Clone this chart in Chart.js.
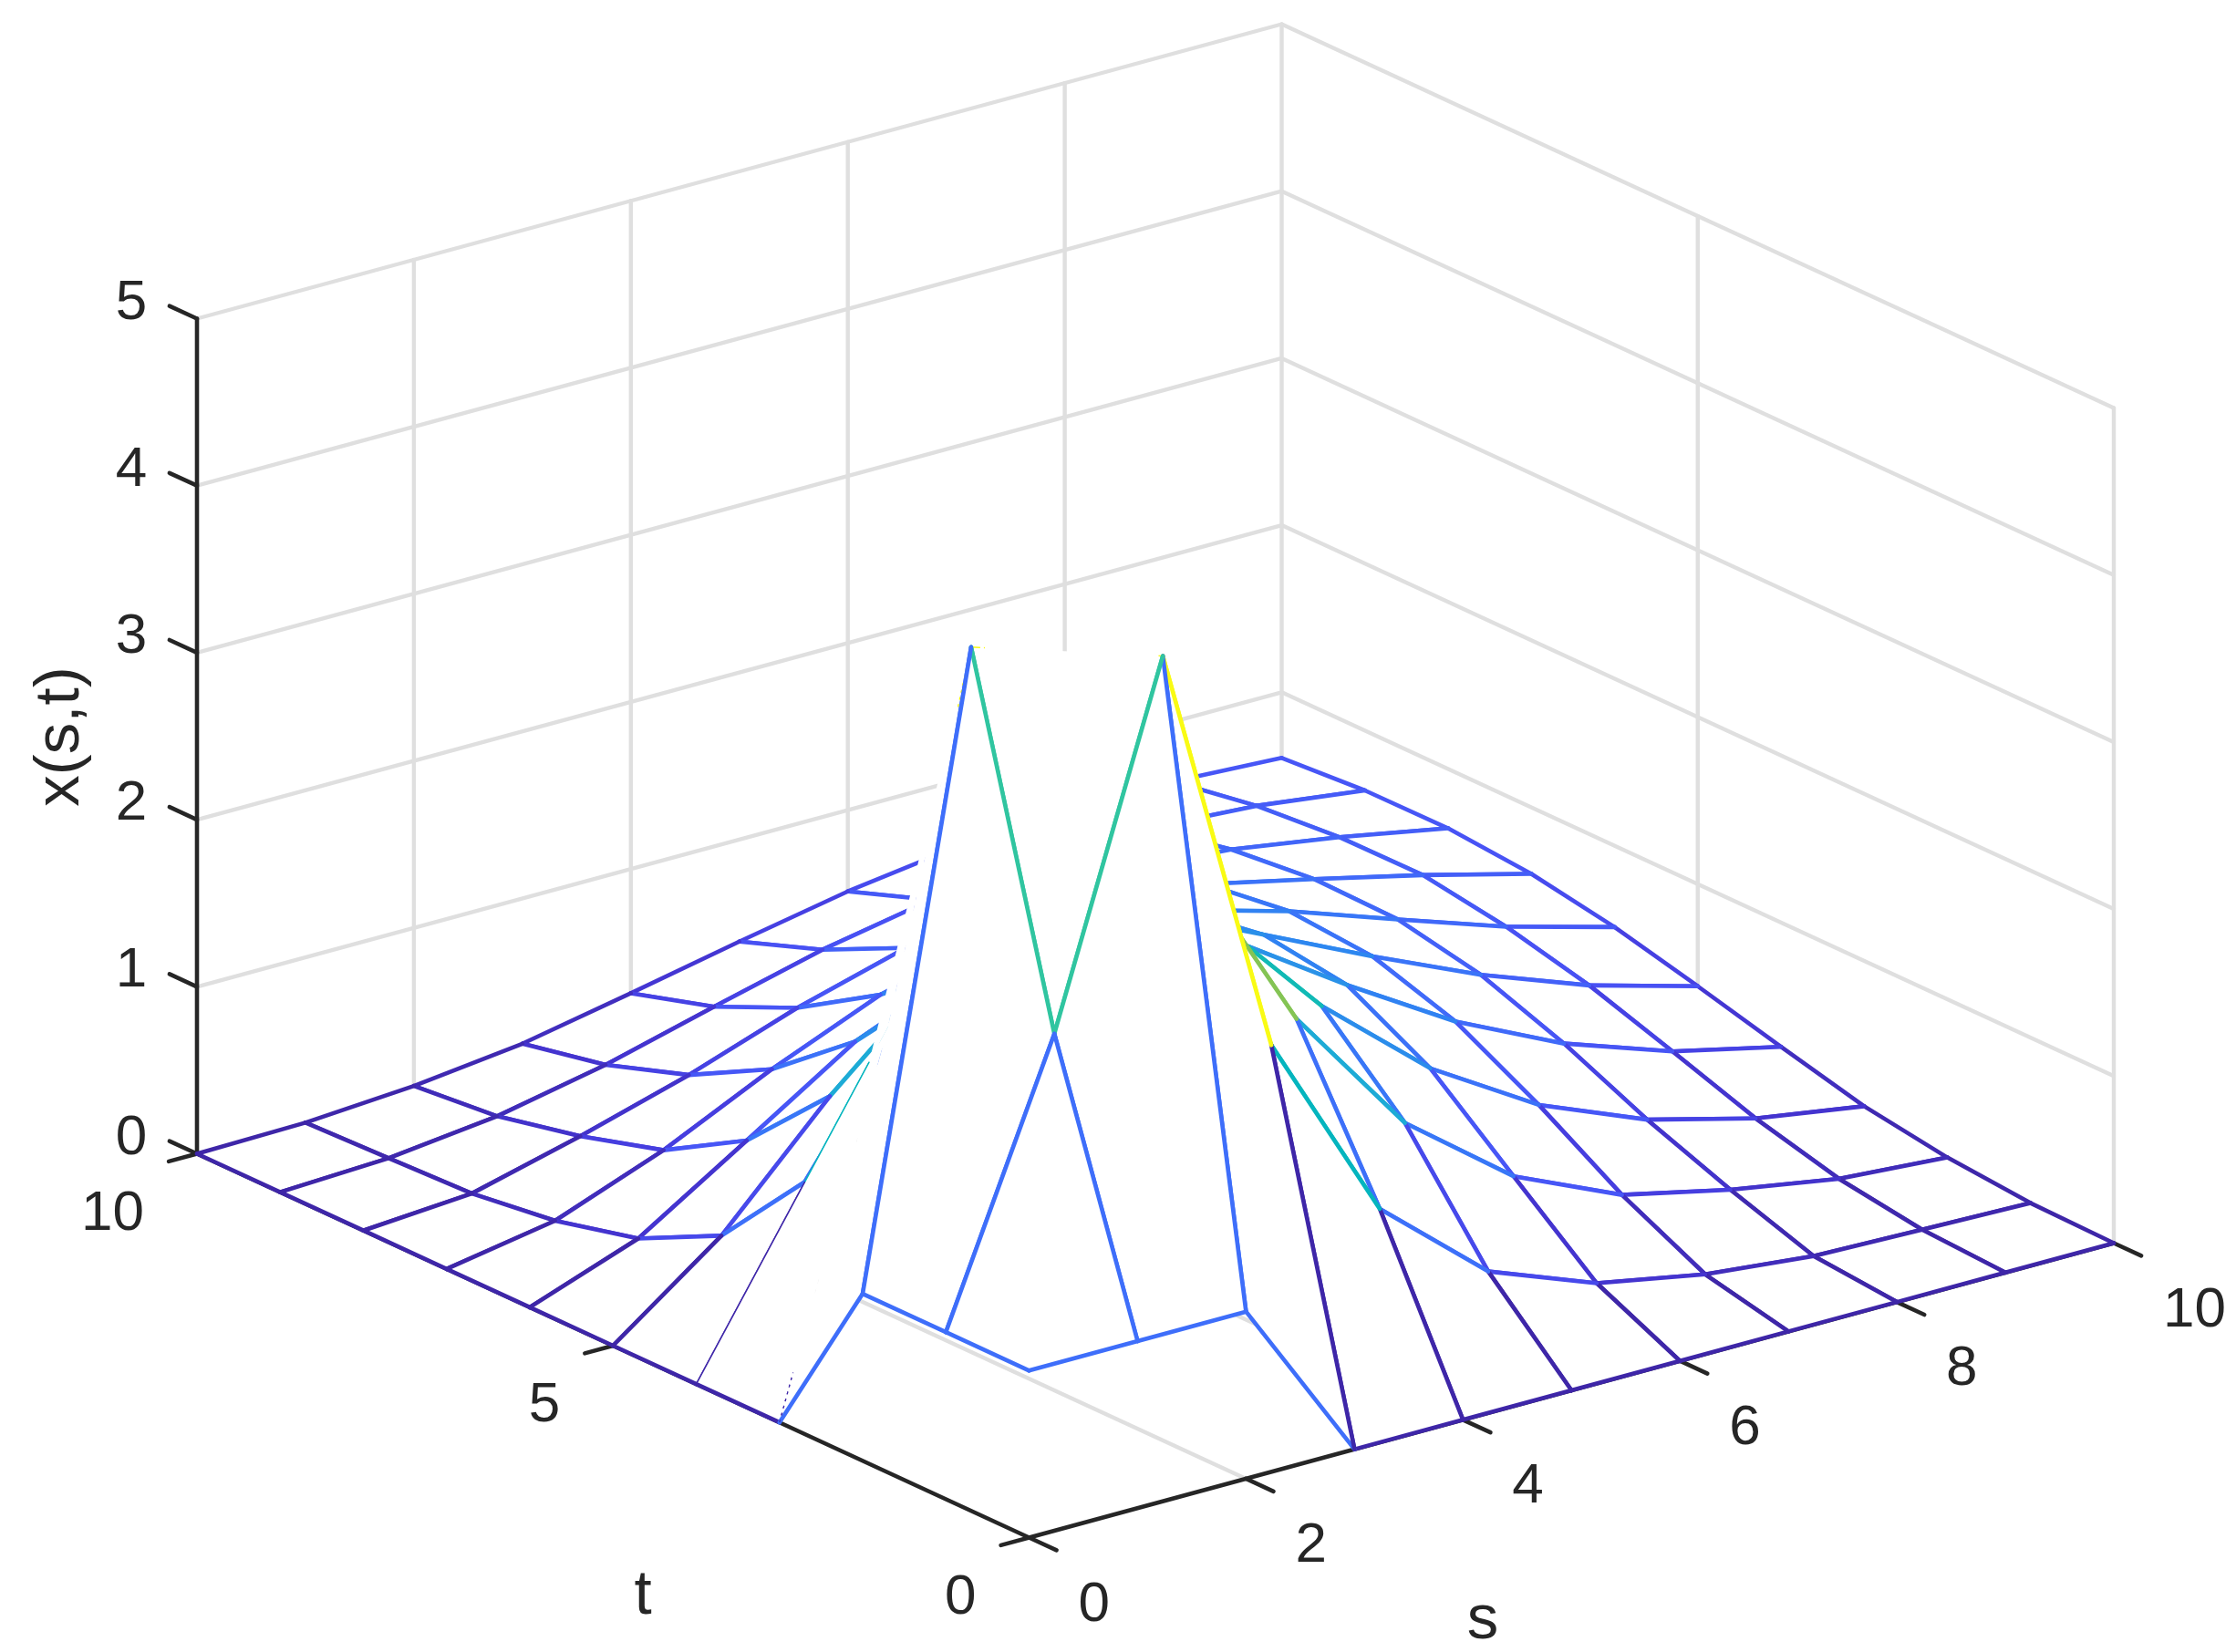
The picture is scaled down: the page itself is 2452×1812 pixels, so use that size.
<!DOCTYPE html>
<html><head><meta charset="utf-8">
<style>html,body{margin:0;padding:0;background:#fff}canvas{display:block}</style>
<script src="https://cdn.jsdelivr.net/npm/chart.js@4/dist/chart.umd.min.js"></script>
</head><body><canvas id="c" width="2452" height="1812"></canvas>
<script>
// ---- data: x(s,t), one list per s ----
const sGrid = [0,1,2,3,4,5,6,7,8,9,10];
const tGrid = [0,1,2,3,4,5,6,7,8,9,10];
const s0  = [1,1,1,0,0,0,0,0,0,0,0];
const s1  = [1,2.61,4.695,2.19,1.033,.482,.235,.112,.045,.027,.01];
const s2  = [1,4.695,4.49,3.07,1.94,1.141,.646,.358,.212,.102,.053];
const s3  = [0,2.19,3.07,2.85,2.31,1.611,1.062,.667,.402,.233,.13];
const s4  = [0,1.033,1.94,2.31,2.1,1.761,1.331,.936,.628,.405,.256];
const s5  = [0,.482,1.141,1.611,1.761,1.706,1.402,1.097,.81,.57,.389];
const s6  = [0,.235,.646,1.062,1.331,1.402,1.32,1.137,.912,.692,.513];
const s7  = [0,.112,.358,.667,.936,1.097,1.137,1.07,.923,.771,.602];
const s8  = [0,.045,.212,.402,.628,.81,.912,.923,.871,.768,.645];
const s9  = [0,.027,.102,.233,.405,.57,.692,.771,.768,.726,.642];
const s10 = [0,.01,.053,.13,.256,.389,.513,.602,.645,.642,.607];
const surface = [s0,s1,s2,s3,s4,s5,s6,s7,s8,s9,s10];
const sTicks = [0,2,4,6,8,10];
const tTicks = [0,5,10];
const zTicks = [0,1,2,3,4,5];

// ---- view: orthographic projection of the 3-D box into the page ----
const origin = {x:1128.5, y:1686.5};
const sStep = {x:118.95, y:-32.3};
const tStep = {x:-91.25, y:-42.1};
const zStep = -183.2;
const proj = (s,t,z) => ({x: origin.x + s*sStep.x + t*tStep.x, y: origin.y + s*sStep.y + t*tStep.y + z*zStep});

// ---- style ----
const GRID = '#dfdfdf', AXIS = '#262626', MESH_W = 4.6, GRID_W = 4.4, AXIS_W = 4.6;
const stops = [[0,62,38,168],[.0625,69,56,217],[.125,72,82,245],[.213,62,110,250],[.3,45,135,240],[.375,42,146,232],
 [.41,30,170,215],[.466,4,181,190],[.556,48,197,160],[.654,132,196,84],[.75,200,190,50],[.85,245,195,50],[1,249,251,20]];
const zMax = 4.695;
function parula(z){
  const c = Math.min(1,Math.max(0,z/zMax));
  for(let i=1;i<stops.length;i++){ if(c<=stops[i][0]){
    const a=stops[i-1],b=stops[i],f=(c-a[0])/(b[0]-a[0]);
    return `rgb(${[1,2,3].map(k=>Math.round(a[k]+(b[k]-a[k])*f)).join(',')})`;
  }}
  return 'rgb(249,251,20)';
}

// edges the reference draws only as slivers (or not at all): [dir, s, t, from, to, width, dash]
const slivers = [
 ['t',1,2,0,.165,1.3,[3,5]],
 ['s',1,2,0,.126,1.3,[10,4]],
 ['t',2,1,0,.05,1.3,[8,3]],
 ['t',1,3,.227,1,1.5,null],
 ['s',0,3,0,.126,1.3,[3,5]],
 ['s',0,4,0,1,1.5,null],
 ['s',1,3,0,0,0,null],
 ['t',2,2,0,0,0,null],
 ['s',2,2,0,0,0,null],
];

const datasets = [];
function line(points,color,width,dash){
  datasets.push({data:points,showLine:true,fill:false,borderColor:color,borderWidth:width,borderDash:dash||[],
    pointRadius:0,tension:0,borderCapStyle:dash?'butt':'round',borderJoinStyle:'round'});
}
function face(pts){
  datasets.push({data:pts,showLine:true,fill:'shape',backgroundColor:'#ffffff',borderWidth:0,borderColor:'rgba(0,0,0,0)',pointRadius:0,tension:0});
}
const P = (s,t) => proj(s,t,surface[s][t]);
const along = (a,b,f) => ({x:a.x+(b.x-a.x)*f,y:a.y+(b.y-a.y)*f});
function edge(dir,s,t){
  const a = P(s,t), b = dir==='s'?P(s+1,t):P(s,t+1);
  const color = parula(surface[s][t]);
  const sl = slivers.find(h=>h[0]===dir&&h[1]===s&&h[2]===t);
  if(sl){ if(sl[4]>sl[3]) line([along(a,b,sl[3]),along(a,b,sl[4])],color,sl[5],sl[6]); }
  else line([a,b],color,MESH_W);
}

// walls and floor grid
zTicks.forEach(z=>line([proj(0,10,z),proj(10,10,z),proj(10,0,z)],GRID,GRID_W));
[2,4,6,8].forEach(s=>{line([proj(s,10,0),proj(s,10,5)],GRID,GRID_W);line([proj(s,0,0),proj(s,10,0)],GRID,GRID_W);});
line([proj(10,5,0),proj(10,5,5)],GRID,GRID_W);
line([proj(0,5,0),proj(10,5,0)],GRID,GRID_W);
line([proj(10,10,0),proj(10,10,5)],GRID,GRID_W);
line([proj(10,0,0),proj(10,0,5)],GRID,GRID_W);
// axes and ticks
line([proj(0,0,0),proj(10,0,0)],AXIS,AXIS_W);
line([proj(0,0,0),proj(0,10,0)],AXIS,AXIS_W);
line([proj(0,10,0),proj(0,10,5)],AXIS,AXIS_W);
sTicks.forEach(s=>line([proj(s,0,0),proj(s,-.33,0)],AXIS,AXIS_W));
tTicks.forEach(t=>line([proj(0,t,0),proj(-.26,t,0)],AXIS,AXIS_W));
zTicks.forEach(z=>line([proj(0,10,z),proj(0,10.33,z)],AXIS,AXIS_W));

// mesh: white faces far to near, each followed by its edges
for(let t=tGrid.length-2;t>=0;t--){
  if(t===2){ // the ridge hides a little more than its own outline
    const end = along(P(1,3),P(1,4),.227);
    face([P(1,2),end,P(1,3),P(1,2)]);
  }
  for(let s=sGrid.length-2;s>=0;s--){
    face([P(s,t),P(s+1,t),P(s+1,t+1),P(s,t+1),P(s,t)]);
    edge('s',s,t); edge('t',s,t); edge('t',s+1,t); edge('s',s,t+1);
  }
}
datasets.forEach((d,i)=>{d.order = datasets.length - i;});

const labelsPlugin = {id:'labels3d', afterDraw(chart){
  const {ctx,scales:{x,y}} = chart;
  const px = p => ({x:x.getPixelForValue(p.x), y:y.getPixelForValue(p.y)});
  ctx.save();
  ctx.fillStyle = AXIS;
  ctx.font = '62px "Liberation Sans", Arial, sans-serif';
  ctx.textBaseline = 'middle';
  ctx.textAlign = 'center';
  zTicks.forEach(z=>{const p=px(proj(0,10,z)); ctx.fillText(String(z),p.x-72,p.y-17);});
  ctx.textAlign = 'right';
  tTicks.forEach(t=>{const p=px(proj(0,t,0)); ctx.fillText(String(t),p.x-58,p.y+66);});
  ctx.textAlign = 'left';
  sTicks.forEach(s=>{const p=px(proj(s,0,0)); ctx.fillText(String(s),p.x+54,p.y+74);});
  ctx.textAlign = 'center';
  ctx.font = '69px "Liberation Sans", Arial, sans-serif';
  ctx.fillText('s',1626,1778);
  ctx.fillText('t',705,1751);
  ctx.save(); ctx.translate(67,808); ctx.rotate(-Math.PI/2); ctx.fillText('x(s,t)',0,0); ctx.restore();
  ctx.restore();
}};

new Chart(document.getElementById('c'),{
  type:'scatter',
  data:{datasets},
  plugins:[labelsPlugin],
  options:{
    responsive:false, animation:false, devicePixelRatio:1,
    layout:{padding:0},
    plugins:{legend:{display:false},tooltip:{enabled:false},title:{display:false}},
    scales:{
      x:{type:'linear',min:0,max:2452,display:false},
      y:{type:'linear',min:0,max:1812,reverse:true,display:false}
    }
  }
});
</script></body></html>
